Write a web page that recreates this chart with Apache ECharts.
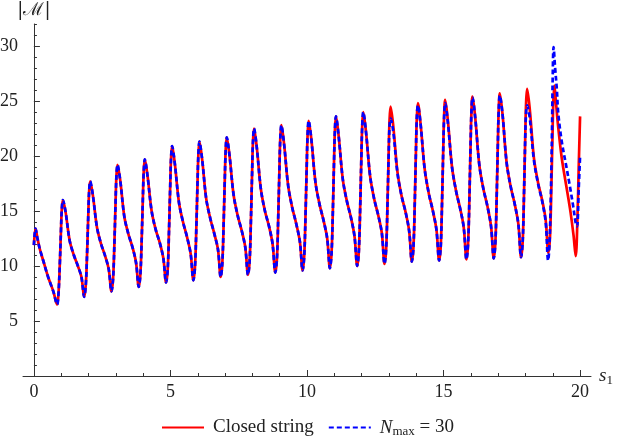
<!DOCTYPE html>
<html>
<head>
<meta charset="utf-8">
<script src="https://cdn.jsdelivr.net/npm/echarts@6/dist/echarts.min.js"></script>
<style>
  html, body { margin: 0; padding: 0; background: #fff; }
  #chart { width: 634px; height: 443px; }
</style>
</head>
<body>
<div id="chart"></div>
<script>
// |M| against s1: closed-string result and the N_max = 30 truncation.
// Section where the two curves coincide, as [s1, |M|] pairs.
const sharedPath = [
  [0.00,11.9],[0.06,13.4],[0.13,12.5],[0.22,11.5],[0.34,10.5],[0.52,9.0],[0.71,7.7],[0.85,6.5],[0.90,7.5],[0.95,10.3],[0.99,13.2],[1.02,15.1],
  [1.06,16.0],[1.16,14.9],[1.31,12.3],[1.46,11.0],[1.61,10.0],[1.74,9.0],[1.84,7.2],[1.90,8.3],[1.95,11.4],[1.99,14.6],[2.02,16.7],
  [2.06,17.7],[2.16,16.4],[2.31,13.5],[2.46,12.0],[2.61,10.9],[2.74,9.7],[2.84,7.7],[2.90,8.9],[2.95,12.3],[2.99,15.8],[3.02,18.1],
  [3.06,19.2],[3.16,17.8],[3.31,14.5],[3.46,12.9],[3.61,11.7],[3.74,10.3],[3.84,8.1],[3.90,9.3],[3.95,12.7],[3.99,16.2],[4.02,18.5],
  [4.06,19.7],[4.16,18.2],[4.31,15.0],[4.46,13.3],[4.61,12.1],[4.74,10.7],[4.84,8.5],[4.90,9.7],[4.95,13.5],[4.99,17.2],[5.02,19.7],
  [5.06,20.9],[5.16,19.3],[5.31,15.8],[5.46,14.0],[5.61,12.6],[5.74,11.1],[5.84,8.7],[5.90,10.0],[5.95,13.7],[5.99,17.5],[6.02,20.0],
  [6.06,21.3],[6.16,19.7],[6.31,16.1],[6.46,14.3],[6.61,12.9],[6.74,11.5],[6.84,9.0],[6.90,10.3],[6.95,14.1],[6.99,17.9],[7.02,20.4],
  [7.06,21.7],[7.16,20.1],[7.31,16.5],[7.46,14.6],[7.61,13.2],[7.74,11.7],[7.84,9.2],[7.90,10.5],[7.95,14.5],[7.99,18.5],[8.02,21.2],
  [8.06,22.5],[8.16,20.8],[8.31,17.0],[8.46,15.0],[8.61,13.6],[8.74,12.0],[8.84,9.4],[8.90,10.7],[8.95,14.8],[8.99,18.8],[9.02,21.5],
  [9.06,22.8],[9.16,21.1],[9.31,17.3],[9.46,15.3],[9.61,13.8],[9.74,12.2],[9.84,9.6],[9.90,11.0],[9.95,15.0],[9.99,19.1],[10.02,21.8],
  [10.06,23.2],[10.16,21.5],[10.31,17.6],[10.46,15.6],[10.61,14.1],[10.74,12.5],[10.84,9.8],[10.90,11.2],[10.95,15.3],[10.99,19.5],[11.02,22.2],
  [11.06,23.6],[11.16,21.8],[11.31,17.9],[11.46,15.9],[11.61,14.4],[11.74,12.7],[11.84,10.0],[11.90,11.4],[11.95,15.6],[11.99,19.8],[12.02,22.6],
  [12.06,24.0],[12.16,22.2],[12.31,18.2],[12.46,16.1],[12.61,14.6],[12.74,13.0],[12.84,10.2],[12.90,11.6],[12.95,15.9]
];

// Closed string, from s1 = 13 onwards.
const closedTail = [
  [12.99,20.2],[13.02,23.1],
  [13.06,24.5],[13.16,22.7],[13.31,18.6],[13.46,16.4],[13.61,14.9],[13.74,13.2],[13.84,10.4],[13.90,11.8],[13.95,16.1],[13.99,20.5],[14.02,23.4],
  [14.06,24.8],[14.16,22.9],[14.31,18.8],[14.46,16.6],[14.61,15.0],[14.74,13.3],[14.84,10.5],[14.90,11.9],[14.95,16.3],[14.99,20.7],[15.02,23.6],
  [15.06,25.1],[15.16,23.2],[15.31,19.0],[15.46,16.8],[15.61,15.2],[15.74,13.5],[15.84,10.6],[15.90,12.1],[15.95,16.5],[15.99,21.0],[16.02,23.9],
  [16.06,25.4],[16.16,23.5],[16.31,19.2],[16.46,17.0],[16.61,15.4],[16.74,13.6],[16.84,10.7],[16.90,12.2],[16.95,16.7],[16.99,21.2],[17.02,24.2],
  [17.06,25.7],[17.16,23.8],[17.31,19.4],[17.46,17.2],[17.61,15.6],[17.74,13.8],[17.84,10.8],[17.90,12.3],[17.95,16.9],[17.99,21.5],[18.02,24.6],
  [18.06,26.1],[18.16,24.2],[18.31,19.8],[18.46,17.6],[18.61,16.0],[18.74,14.2],[18.84,11.2],[18.90,12.7],[18.95,17.3],[18.99,21.8],[19.02,24.9],
  [19.06,26.4],[19.12,24.8],[19.20,22.6],[19.33,19.8],[19.50,17.2],[19.65,14.9],[19.76,12.8],[19.84,10.9],[19.90,14.0],[19.95,19.0],[20.00,23.6]
];

// N_max = 30, from s1 = 13 onwards.
const nmaxTail = [
  [12.99,20.0],[13.02,22.6],
  [13.06,23.4],[13.16,22.2],[13.31,18.5],[13.46,16.4],[13.61,14.9],[13.74,13.2],[13.84,10.4],[13.90,11.8],[13.95,16.1],[13.99,20.5],[14.02,23.4],
  [14.06,24.6],[14.16,22.9],[14.31,18.8],[14.46,16.6],[14.61,15.0],[14.74,13.3],[14.84,10.5],[14.90,11.9],[14.95,16.3],[14.99,20.7],[15.02,23.4],
  [15.06,24.8],[15.16,23.0],[15.31,19.0],[15.46,16.8],[15.61,15.2],[15.74,13.5],[15.84,10.6],[15.90,12.1],[15.95,16.5],[15.99,21.0],[16.02,23.9],
  [16.06,25.3],[16.16,23.5],[16.31,19.2],[16.46,17.0],[16.61,15.4],[16.74,13.6],[16.84,10.7],[16.90,12.2],[16.95,16.7],[16.99,21.2],[17.02,24.1],
  [17.06,25.5],[17.16,23.8],[17.31,19.4],[17.46,17.2],[17.61,15.6],[17.74,13.8],[17.84,10.8],[17.90,12.3],[17.95,16.9],[17.99,21.5],[18.02,23.8],
  [18.06,24.6],[18.16,23.4],[18.31,19.6],[18.46,17.5],[18.61,15.9],[18.74,14.0],[18.83,10.5],[18.88,12.0],[18.93,16.5],[18.97,22.0],[19.00,27.5],
  [19.03,29.9],[19.08,28.2],[19.15,26.0],[19.20,23.9],[19.33,21.3],[19.50,19.0],[19.63,17.2],[19.75,15.4],[19.84,13.9],[19.89,13.6],[19.95,17.0],[20.00,20.0]
];

const seriesNames = ['Closed string', 'N_max = 30'];
const xMajorTicks = [0, 5, 10, 15, 20];
const xMinorTicks = [0,1,2,3,4,5,6,7,8,9,10,11,12,13,14,15,16,17,18,19,20];
const yMajorTicks = [5, 10, 15, 20, 25, 30];
const yMinorTicks = [1,2,3,4,5,6,7,8,9,10,11,12,13,14,15,16,17,18,19,20,21,22,23,24,25,26,27,28,29,30,31,32];

const serif = "'Liberation Serif', 'DejaVu Serif', serif";
const axisColor = '#333';
const textColor = '#222';

const chart = echarts.init(document.getElementById('chart'), null, { renderer: 'canvas' });

const baseX = {
  type: 'value', min: -0.4, max: 20.4, position: 'bottom',
  splitLine: { show: false },
  axisLine: { onZero: false }
};
const baseY = {
  type: 'value', min: 0, max: 32, position: 'left',
  splitLine: { show: false }
};

chart.setOption({
  animation: false,
  backgroundColor: '#fff',
  grid: { left: 23, right: 43, top: 24, bottom: 67, containLabel: false, outerBoundsMode: 'none' },
  xAxis: [
    Object.assign({}, baseX, {
      axisLine: { show: true, onZero: false, lineStyle: { color: axisColor, width: 1 } },
      axisTick: { show: true, inside: true, length: 3, customValues: xMinorTicks, lineStyle: { color: axisColor } },
      axisLabel: { show: false },
      name: '{i|s}{sub|1}',
      nameLocation: 'end',
      nameGap: 8,
      nameTextStyle: {
        rich: {
          i: { fontFamily: serif, fontStyle: 'italic', fontSize: 19, color: textColor },
          sub: { fontFamily: serif, fontSize: 13, color: textColor, padding: [10, 0, 0, 0] }
        }
      }
    }),
    Object.assign({}, baseX, {
      axisLine: { show: false, onZero: false },
      axisTick: { show: true, inside: true, length: 6, customValues: xMajorTicks, lineStyle: { color: axisColor } },
      axisLabel: { show: true, customValues: xMajorTicks, margin: 7, fontFamily: serif, fontSize: 18, color: textColor }
    })
  ],
  yAxis: [
    Object.assign({}, baseY, {
      axisLine: { show: true, onZero: true, onZeroAxisIndex: 0, lineStyle: { color: axisColor, width: 1 } },
      axisTick: { show: true, inside: true, length: 3, customValues: yMinorTicks, lineStyle: { color: axisColor } },
      axisLabel: { show: false },
      name: '|ℳ|',
      nameLocation: 'end',
      nameGap: 5,
      nameTextStyle: { fontFamily: "'DejaVu Serif', serif", fontSize: 18, color: textColor }
    }),
    Object.assign({}, baseY, {
      axisLine: { show: false, onZero: true, onZeroAxisIndex: 0 },
      axisTick: { show: true, inside: true, length: 6, customValues: yMajorTicks, lineStyle: { color: axisColor } },
      axisLabel: { show: true, customValues: yMajorTicks, margin: 5, fontFamily: serif, fontSize: 18, color: textColor }
    })
  ],
  legend: {
    left: 156, top: 413,
    itemWidth: 42, itemHeight: 4, itemGap: 14,
    itemStyle: { opacity: 0 },
    data: seriesNames,
    formatter: function (name) {
      return name === seriesNames[1] ? '{i|N}{sub|max}{t| = 30}' : '{t|' + name + '}';
    },
    textStyle: {
      padding: [0, 0, 0, 4],
      rich: {
        t: { fontFamily: serif, fontSize: 19, color: textColor },
        i: { fontFamily: serif, fontStyle: 'italic', fontSize: 19, color: textColor },
        sub: { fontFamily: serif, fontSize: 13, color: textColor, padding: [9, 0, 0, 0] }
      }
    }
  },
  series: [
    {
      name: seriesNames[0], type: 'line', xAxisIndex: 0, yAxisIndex: 0,
      data: sharedPath.concat(closedTail),
      showSymbol: false, symbol: 'none', smooth: 0.35,
      lineStyle: { color: '#ff0000', width: 2.7 },
      itemStyle: { color: '#ff0000' },
      z: 2
    },
    {
      name: seriesNames[1], type: 'line', xAxisIndex: 0, yAxisIndex: 0,
      data: sharedPath.concat(nmaxTail),
      showSymbol: false, symbol: 'none', smooth: 0.35,
      lineStyle: { color: '#0000ff', width: 2.7, type: [5, 3] },
      itemStyle: { color: '#0000ff' },
      z: 3
    }
  ]
});
</script>
</body>
</html>
